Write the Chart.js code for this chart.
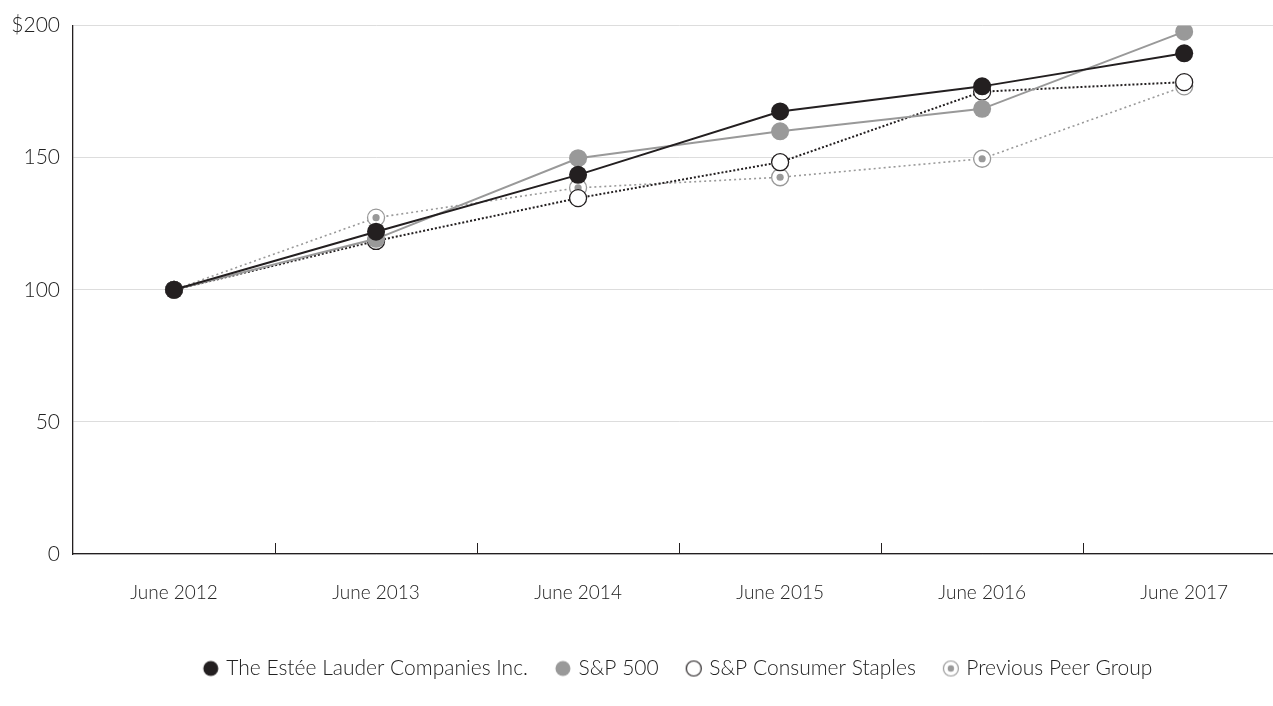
<!DOCTYPE html>
<html>
<head>
<meta charset="utf-8">
<script src="https://cdn.jsdelivr.net/npm/chart.js@4"></script>
<style>
  html, body { margin: 0; padding: 0; background: #fff; overflow: hidden; }
  #wrap { width: 1273px; height: 706px; overflow: hidden; }
</style>
</head>
<body>
<div id="wrap"><canvas id="chart" width="1295" height="706"></canvas></div>
<script>
// ===== DADOS =====
const years = ['June 2012', 'June 2013', 'June 2014', 'June 2015', 'June 2016', 'June 2017'];
const esteeLauder = [100, 122, 143.5, 167.5, 177, 189.5];
const sp500 = [100, 119.3, 149.8, 160, 168.5, 197.7];
const consumerStaples = [100, 118.5, 134.7, 148.3, 175, 178.6];
const peerGroup = [100, 127.3, 138.6, 142.6, 149.6, 177];
const yTicks = [0, 50, 100, 150, 200];

const BLACK = '#231f20';
const GRAY = '#999999';
const FONT = 'Lato';

// marcador do legend (canvas pequeno)
function legendMarker(kind) {
  const c = document.createElement('canvas');
  c.width = 18; c.height = 18;
  const g = c.getContext('2d');
  g.beginPath();
  g.arc(9, 9, 7.5, 0, Math.PI * 2);
  if (kind === 'black') { g.fillStyle = BLACK; g.fill(); }
  if (kind === 'gray') { g.fillStyle = GRAY; g.fill(); }
  if (kind === 'open') { g.fillStyle = '#fff'; g.fill(); g.lineWidth = 1.2; g.strokeStyle = BLACK; g.stroke(); }
  if (kind === 'peer') {
    g.fillStyle = '#fff'; g.fill(); g.lineWidth = 1.2; g.strokeStyle = GRAY; g.stroke();
    g.beginPath(); g.arc(9, 9, 3.2, 0, Math.PI * 2); g.fillStyle = GRAY; g.fill();
  }
  return c;
}

// ===== PLUGINS =====
const innerTicks = {
  id: 'innerTicks',
  afterDraw(chart) {
    const x = chart.scales.x, y = chart.scales.y;
    const ctx = chart.ctx;
    ctx.save();
    ctx.strokeStyle = BLACK;
    ctx.lineWidth = 1;
    for (let i = 1; i < years.length; i++) {
      const px = Math.round(x.getPixelForValue(i - 0.5)) + 0.5;
      ctx.beginPath();
      ctx.moveTo(px, y.bottom);
      ctx.lineTo(px, y.bottom - 11);
      ctx.stroke();
    }
    ctx.restore();
  }
};

// ponto central do "Previous Peer Group"
const peerDots = {
  id: 'peerDots',
  afterDatasetDraw(chart, args) {
    if (args.index !== 0) return;
    const ctx = chart.ctx;
    ctx.save();
    ctx.fillStyle = GRAY;
    args.meta.data.forEach(pt => {
      ctx.beginPath();
      ctx.arc(pt.x, pt.y, 3.6, 0, Math.PI * 2);
      ctx.fill();
    });
    ctx.restore();
  }
};

// ===== GRÁFICO =====
const ctx = document.getElementById('chart').getContext('2d');
new Chart(ctx, {
  type: 'line',
  data: {
    labels: years,
    datasets: [
      { label: 'Previous Peer Group', data: peerGroup, borderColor: GRAY, borderWidth: 1.6, borderDash: [2, 3],
        pointRadius: 8.5, pointBackgroundColor: '#fff', pointBorderColor: GRAY, pointBorderWidth: 1.3, order: 4, marker: 'peer' },
      { label: 'S&P Consumer Staples', data: consumerStaples, borderColor: BLACK, borderWidth: 2, borderDash: [2, 2],
        pointRadius: 8.5, pointBackgroundColor: '#fff', pointBorderColor: BLACK, pointBorderWidth: 1.3, order: 3, marker: 'open' },
      { label: 'S&P 500', data: sp500, borderColor: GRAY, borderWidth: 2,
        pointRadius: 9, pointBackgroundColor: GRAY, pointBorderColor: GRAY, pointBorderWidth: 0, order: 2, marker: 'gray' },
      { label: 'The Estée Lauder Companies Inc.', data: esteeLauder, borderColor: BLACK, borderWidth: 2,
        pointRadius: 9, pointBackgroundColor: BLACK, pointBorderColor: BLACK, pointBorderWidth: 0, order: 1, marker: 'black' }
    ]
  },
  options: {
    responsive: false,
    animation: false,
    layout: { padding: { top: 15, right: 0, left: 0, bottom: 17 } },
    plugins: {
      tooltip: { enabled: false },
      legend: {
        position: 'bottom',
        fullSize: false,
        reverse: true,
        labels: {
          usePointStyle: true,
          pointStyleWidth: 10,
          boxHeight: 18,
          padding: 30,
          color: '#222',
          font: { family: FONT, size: 21, weight: 300 },
          generateLabels(chart) {
            return chart.data.datasets.map((ds, i) => ({
              text: ds.label,
              pointStyle: legendMarker(ds.marker),
              fillStyle: ds.pointBackgroundColor,
              strokeStyle: ds.pointBorderColor,
              lineWidth: 0,
              hidden: false,
              datasetIndex: i,
              fontColor: '#222'
            }));
          }
        }
      }
    },
    scales: {
      x: {
        offset: true,
        grid: { display: false, drawTicks: false },
        border: { display: true, color: BLACK, width: 1.3 },
        ticks: { color: '#222', padding: 27, maxRotation: 0, font: { family: FONT, size: 19, weight: 300 } },
        afterFit(scale) { scale.height = 74; }
      },
      y: {
        min: 0,
        max: 200,
        afterBuildTicks(scale) { scale.ticks = yTicks.map(v => ({ value: v })); },
        grid: { color: '#dddddd', lineWidth: 1, drawTicks: false },
        border: { display: true, color: BLACK, width: 1.3 },
        ticks: {
          color: '#222',
          padding: 13,
          font: { family: FONT, size: 21, weight: 300 },
          callback: v => (v === 200 ? '$200' : String(v))
        },
        afterFit(scale) { scale.width = 73; }
      }
    }
  },
  plugins: [innerTicks, peerDots]
});
</script>
</body>
</html>
